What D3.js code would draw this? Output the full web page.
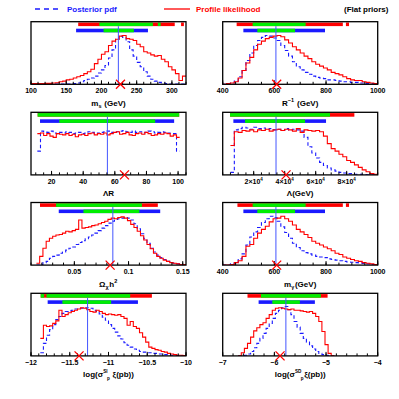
<!DOCTYPE html>
<html><head><meta charset="utf-8">
<script src="https://cdn.jsdelivr.net/npm/d3@7"></script>
<style>body{margin:0;background:#fff}svg{display:block}text{font-family:"Liberation Sans",Arial,Helvetica,sans-serif;font-weight:bold}</style>
</head><body>
<svg id="c" width="399" height="399"></svg>
<script>
// ---------------- DATA ----------------
// Panel 1: m_s
const msDomain=[100,320], msTicks=[100,150,200,250,300], msMinor=10, msBin=[100,5];
const msRed=[0.01,0.01,0.01,0.01,0.015,0.015,0.02,0.025,0.04,0.05,0.07,0.08,0.1,0.12,0.14,0.17,0.2,0.24,0.33,0.4,0.48,0.52,0.62,0.69,0.72,0.77,0.78,0.73,0.72,0.7,0.64,0.6,0.52,0.5,0.47,0.45,0.46,0.4,0.36,0.28,0.23,0.17,0.06,0.13];
const msBlue=[0.005,0.005,0.005,0.005,0.005,0.005,0.005,0.005,0.005,0.005,0.005,0.005,0.01,0.02,0.04,0.06,0.08,0.1,0.13,0.18,0.23,0.3,0.42,0.55,0.72,0.77,0.75,0.68,0.55,0.45,0.35,0.28,0.2,0.13,0.08,0.05,0.03,0.02,0.01,0.005,0.005,0.005,0.005,0.005];
const msProf95=[[167,304],[313,317]], msProf68=[[197,273],[280,284]], msPost95=[[164,266]], msPost68=[[203,246]], msMean=224, msBest=227;

// Panel 2: R^-1
const rDomain=[400,1000], rTicks=[400,600,800,1000], rMinor=50, rBin=[400,15];
const rRed=[0,0.01,0.02,0.04,0.1,0.22,0.34,0.43,0.55,0.64,0.69,0.73,0.75,0.77,0.78,0.76,0.71,0.66,0.6,0.55,0.5,0.45,0.41,0.36,0.32,0.29,0.26,0.23,0.19,0.17,0.15,0.12,0.09,0.07,0.06,0.06,0.04,0.03,0.02,0.01];
const rBlue=[0,0,0.02,0.05,0.12,0.22,0.38,0.5,0.62,0.7,0.75,0.78,0.77,0.74,0.7,0.62,0.54,0.45,0.36,0.28,0.23,0.19,0.16,0.13,0.11,0.1,0.09,0.07,0.07,0.06,0.05,0.04,0.04,0.03,0.03,0.02,0.02,0.01,0.01,0.005];
const rProf95=[[454,865],[877,889]], rProf68=[[516,721]], rPost95=[[480,796]], rPost68=[[534,680]], rMean=606, rBest=609;

// Panel 3: Lambda R
const lrDomain=[7,105], lrTicks=[20,40,60,80,100], lrMinor=5, lrBin=[11,2];
const lrRed=[0.66,0.67,0.63,0.66,0.62,0.6,0.66,0.65,0.64,0.66,0.63,0.65,0.61,0.64,0.65,0.63,0.66,0.67,0.64,0.66,0.65,0.67,0.64,0.66,0.68,0.69,0.65,0.66,0.68,0.64,0.63,0.66,0.67,0.65,0.68,0.66,0.63,0.64,0.66,0.65,0.67,0.66,0.62,0.64,0.6];
const lrBlue=[0.38,0.7,0.69,0.68,0.7,0.67,0.66,0.68,0.67,0.69,0.68,0.66,0.67,0.68,0.66,0.67,0.69,0.68,0.66,0.67,0.68,0.69,0.7,0.68,0.67,0.69,0.7,0.71,0.69,0.68,0.7,0.68,0.69,0.67,0.68,0.7,0.69,0.67,0.68,0.69,0.68,0.67,0.66,0.66,0.38];
const lrProf95=[[11.2,100.7]], lrProf68=[[11.2,100.7]], lrPost95=[[12.7,97.5]], lrPost68=[[24.9,85.5]], lrMean=55.3, lrBest=66.1;

// Panel 4: Lambda
const lDomain=[0,100000], lTicks=[20000,40000,60000,80000], lMinor=5000, lBin=[5000,2500];
const lRed=[0.47,0.69,0.68,0.71,0.7,0.72,0.69,0.72,0.71,0.73,0.7,0.72,0.73,0.71,0.73,0.72,0.7,0.74,0.68,0.72,0.71,0.7,0.71,0.69,0.62,0.5,0.42,0.38,0.33,0.29,0.23,0.2,0.16,0.12,0.08,0.05,0.02,0.01];
const lBlue=[0.04,0.72,0.74,0.76,0.75,0.73,0.76,0.74,0.75,0.73,0.74,0.72,0.73,0.71,0.74,0.72,0.73,0.72,0.7,0.6,0.45,0.35,0.27,0.2,0.15,0.11,0.08,0.06,0.04,0.03,0.02,0.02,0.01,0.01,0.005,0,0,0];
const lProf95=[[4731,84946]], lProf68=[[4731,69247]], lPost95=[[6882,66667]], lPost68=[[14409,53118]], lMean=34400, lBest=40860;

// Panel 5: Omega h^2
const oDomain=[0.01,0.153], oTicks=[0.05,0.1,0.15], oMinor=0.01, oBin=[0.015,0.003];
const oRed=[0.03,0.14,0.27,0.38,0.43,0.46,0.48,0.49,0.51,0.54,0.53,0.55,0.57,0.72,0.59,0.6,0.61,0.63,0.64,0.66,0.68,0.7,0.73,0.75,0.74,0.76,0.77,0.75,0.71,0.65,0.6,0.54,0.47,0.4,0.33,0.26,0.19,0.14,0.11,0.08,0.06,0.04,0.03,0.02,0.01,0.01];
const oBlue=[0,0.01,0.04,0.06,0.11,0.14,0.16,0.19,0.21,0.24,0.27,0.29,0.33,0.36,0.39,0.42,0.45,0.48,0.51,0.55,0.59,0.63,0.67,0.7,0.73,0.74,0.75,0.76,0.75,0.72,0.66,0.58,0.5,0.42,0.35,0.27,0.21,0.16,0.12,0.09,0.06,0.04,0.03,0.02,0.01,0.01];
const oProf95=[[0.0183,0.127]], oProf68=[[0.0331,0.1123]], oPost95=[[0.0356,0.1292]], oPost68=[[0.0584,0.110]], oMean=0.0855, oBest=0.083;

// Panel 6: m_gamma
const gDomain=[400,1000], gTicks=[400,600,800,1000], gMinor=50, gBin=[400,15];
const gRed=[0,0,0.01,0.04,0.07,0.14,0.3,0.33,0.43,0.51,0.57,0.62,0.69,0.74,0.75,0.78,0.74,0.7,0.64,0.57,0.53,0.49,0.44,0.38,0.35,0.32,0.29,0.26,0.23,0.19,0.17,0.13,0.11,0.09,0.07,0.06,0.04,0.03,0.02,0.01];
const gBlue=[0,0,0.02,0.04,0.1,0.18,0.32,0.45,0.53,0.6,0.68,0.74,0.78,0.76,0.7,0.61,0.52,0.43,0.35,0.28,0.23,0.2,0.18,0.16,0.14,0.13,0.12,0.1,0.09,0.08,0.07,0.06,0.05,0.045,0.04,0.035,0.025,0.02,0.01,0.01];
const gProf95=[[457,865],[877,889]], gProf68=[[516,721]], gPost95=[[480,796]], gPost68=[[534,680]], gMean=606, gBest=609;

// Panel 7: log sigma SI
const siDomain=[-12,-10], siTicks=[-12,-11.5,-11,-10.5,-10], siMinor=0.1, siBin=[-11.88,0.04];
const siRed=[0.28,0.49,0.47,0.48,0.52,0.56,0.73,0.63,0.66,0.69,0.71,0.73,0.75,0.77,0.76,0.74,0.71,0.7,0.73,0.71,0.68,0.66,0.67,0.66,0.65,0.66,0.63,0.6,0.49,0.55,0.47,0.44,0.37,0.3,0.22,0.14,0.12,0.1,0.09,0.07,0.06,0.04,0.03,0.02,0.01,0.01,0.005];
const siBlue=[0.05,0.2,0.33,0.42,0.5,0.58,0.63,0.68,0.71,0.72,0.73,0.75,0.76,0.76,0.77,0.77,0.76,0.73,0.71,0.67,0.62,0.57,0.5,0.44,0.38,0.32,0.27,0.21,0.17,0.14,0.11,0.09,0.07,0.06,0.05,0.05,0.04,0.04,0.03,0.03,0.02,0.02,0.01,0.01,0.005,0,0];
const siProf95=[[-11.875,-10.44]], siProf68=[[-11.875,-11.83],[-11.80,-10.72]], siPost95=[[-11.785,-10.62]], siPost68=[[-11.595,-10.966]], siMean=-11.27, siBest=-11.38;

// Panel 8: log sigma SD
const sdDomain=[-7,-4], sdTicks=[-7,-6,-5,-4], sdMinor=0.2, sdBin=[-6.7,0.06];
const sdRed=[0,0.05,0.12,0.2,0.3,0.4,0.45,0.5,0.53,0.6,0.66,0.73,0.76,0.77,0.76,0.75,0.74,0.75,0.73,0.73,0.72,0.71,0.7,0.71,0.68,0.63,0.55,0.39,0.18,0.04,0];
const sdBlue=[0,0,0.01,0.03,0.07,0.13,0.2,0.28,0.36,0.44,0.52,0.6,0.68,0.73,0.77,0.79,0.74,0.66,0.55,0.46,0.36,0.28,0.22,0.16,0.11,0.07,0.04,0.02,0.01,0,0];
const sdProf95=[[-6.52,-4.97]], sdProf68=[[-6.26,-5.1]], sdPost95=[[-6.305,-5.216]], sdPost68=[[-6.04,-5.506]], sdMean=-5.777, sdBest=-5.89;

const legendLabels=["Posterior pdf","Profile likelihood","(Flat priors)"];

// ---------------- DRAWING ----------------
const svg=d3.select("#c");
const colX=[31,222.7], rowY=[21.7,112.3,202.5,293.3], W=155, H=62.6;
const RED="#ff0000", BLUE="#1a1aff", GREEN="#00ee00";

const fmtNum=v=>String(v).replace("-","\u2212");
const panels=[
 {dom:msDomain,ticks:msTicks,minor:msMinor,bin:msBin,red:msRed,blue:msBlue,p95:msProf95,p68:msProf68,q95:msPost95,q68:msPost68,mean:msMean,best:msBest,fmt:fmtNum,
  title:[["m",""],["s","sub"],[" (GeV)",""]]},
 {dom:rDomain,ticks:rTicks,minor:rMinor,bin:rBin,red:rRed,blue:rBlue,p95:rProf95,p68:rProf68,q95:rPost95,q68:rPost68,mean:rMean,best:rBest,fmt:fmtNum,
  title:[["R",""],["\u22121","sup"],[" (GeV)",""]]},
 {dom:lrDomain,ticks:lrTicks,minor:lrMinor,bin:lrBin,red:lrRed,blue:lrBlue,p95:lrProf95,p68:lrProf68,q95:lrPost95,q68:lrPost68,mean:lrMean,best:lrBest,fmt:fmtNum,
  title:[["\u039bR",""]]},
 {dom:lDomain,ticks:lTicks,minor:lMinor,bin:lBin,red:lRed,blue:lBlue,p95:lProf95,p68:lProf68,q95:lPost95,q68:lPost68,mean:lMean,best:lBest,fmt:"exp",
  title:[["\u039b(GeV)",""]]},
 {dom:oDomain,ticks:oTicks,minor:oMinor,bin:oBin,red:oRed,blue:oBlue,p95:oProf95,p68:oProf68,q95:oPost95,q68:oPost68,mean:oMean,best:oBest,fmt:fmtNum,
  title:[["\u03a9",""],["\u03c7","sub"],["h",""],["2","sup"]]},
 {dom:gDomain,ticks:gTicks,minor:gMinor,bin:gBin,red:gRed,blue:gBlue,p95:gProf95,p68:gProf68,q95:gPost95,q68:gPost68,mean:gMean,best:gBest,fmt:fmtNum,
  title:[["m",""],["\u03b3","sub"],["(GeV)",""]]},
 {dom:siDomain,ticks:siTicks,minor:siMinor,bin:siBin,red:siRed,blue:siBlue,p95:siProf95,p68:siProf68,q95:siPost95,q68:siPost68,mean:siMean,best:siBest,fmt:fmtNum,
  title:[["log(\u03c3",""],["SI","supsub","p"],[" \u03be(pb))",""]]},
 {dom:sdDomain,ticks:sdTicks,minor:sdMinor,bin:sdBin,red:sdRed,blue:sdBlue,p95:sdProf95,p68:sdProf68,q95:sdPost95,q68:sdPost68,mean:sdMean,best:sdBest,fmt:fmtNum,
  title:[["log(\u03c3",""],["SD","supsub","p"],["\u03be(pb))",""]]}
];

const defs=svg.append("defs");
panels.forEach((p,i)=>{
  const x0=colX[i%2], y0=rowY[Math.floor(i/2)];
  const x=d3.scaleLinear().domain(p.dom).range([x0,x0+W]);
  const y=d3.scaleLinear().domain([0,1]).range([y0+H,y0]);
  const g=svg.append("g");
  defs.append("clipPath").attr("id","cp"+i).append("rect").attr("x",x0).attr("y",y0).attr("width",W).attr("height",H);
  const line=d3.line().x(d=>x(d[0])).y(d=>y(d[1]));
  const pts=arr=>arr.flatMap((v,k)=>[[p.bin[0]+k*p.bin[1],v],[p.bin[0]+(k+1)*p.bin[1],v]]);
  const hg=g.append("g").attr("clip-path","url(#cp"+i+")");
  hg.append("path").attr("d",line(pts(p.blue))).attr("fill","none").attr("stroke",BLUE).attr("stroke-width",1.1).attr("stroke-dasharray","3.5,2.5");
  hg.append("path").attr("d",line(pts(p.red))).attr("fill","none").attr("stroke",RED).attr("stroke-width",1.1);
  // bars
  const bar=(ints,col,top)=>ints.forEach(iv=>g.append("rect").attr("x",x(iv[0])).attr("width",x(iv[1])-x(iv[0])).attr("y",y0+top).attr("height",3.6).attr("fill",col));
  bar(p.p95,RED,0.8); bar(p.p68,GREEN,0.8);
  bar(p.q95,BLUE,7); bar(p.q68,GREEN,7);
  // mean line
  g.append("line").attr("x1",x(p.mean)).attr("x2",x(p.mean)).attr("y1",y0+4.5).attr("y2",y0+H).attr("stroke","#4455ff").attr("stroke-width",1);
  // frame
  g.append("rect").attr("x",x0).attr("y",y0).attr("width",W).attr("height",H).attr("fill","none").attr("stroke","#000").attr("stroke-width",1.3);
  // ticks
  const [a,b]=p.dom;
  const minors=d3.range(Math.ceil(a/p.minor-1e-9),Math.floor(b/p.minor+1e-9)+1).map(k=>k*p.minor);
  minors.forEach(v=>g.append("line").attr("x1",x(v)).attr("x2",x(v)).attr("y1",y0+H).attr("y2",y0+H-2.5).attr("stroke","#000").attr("stroke-width",1));
  p.ticks.forEach(v=>{
    g.append("line").attr("x1",x(v)).attr("x2",x(v)).attr("y1",y0+H).attr("y2",y0+H-4).attr("stroke","#000").attr("stroke-width",1);
    const t=g.append("text").attr("x",x(v)).attr("y",y0+H+9).attr("text-anchor","middle").attr("font-size",7);
    if(p.fmt==="exp"){ t.append("tspan").text((v/10000)+"\u00d710"); t.append("tspan").attr("font-size",4.5).attr("dy",-3).text("4"); }
    else t.text(p.fmt(v));
  });
  // best fit X
  const bx=x(p.best), by=y0+H;
  g.append("path").attr("d",`M${bx-4.5},${by-4.5}L${bx+4.5},${by+4.5}M${bx-4.5},${by+4.5}L${bx+4.5},${by-4.5}`).attr("stroke",RED).attr("stroke-width",1.3);
  // title
  const tt=g.append("text").attr("x",x0+W/2).attr("y",y0+H+21.5).attr("text-anchor","middle").attr("font-size",8);
  p.title.forEach(seg=>{
    if(seg[1]==="") tt.append("tspan").text(seg[0]);
    else if(seg[1]==="sub"){ tt.append("tspan").attr("font-size",5.5).attr("dy",2).text(seg[0]); tt.append("tspan").attr("dy",-2).text("\u200a"); }
    else if(seg[1]==="sup"){ tt.append("tspan").attr("font-size",5.5).attr("dy",-3.5).text(seg[0]); tt.append("tspan").attr("dy",3.5).text("\u200a"); }
    else { // sup then sub placed just after it (tight, like stacked indices)
      tt.append("tspan").attr("font-size",4.6).attr("dy",-4).text(seg[0]);
      tt.append("tspan").attr("font-size",4.6).attr("dy",6.5).attr("dx",-0.6).text(seg[2]);
      tt.append("tspan").attr("dy",-2.5).text("\u200a");
    }
  });
});

// legend
svg.append("line").attr("x1",35).attr("x2",58).attr("y1",9).attr("y2",9).attr("stroke",BLUE).attr("stroke-width",1.3).attr("stroke-dasharray","5,4");
svg.append("text").attr("x",67).attr("y",12).attr("font-size",8).attr("fill",BLUE).text(legendLabels[0]);
svg.append("line").attr("x1",164).attr("x2",190).attr("y1",9).attr("y2",9).attr("stroke",RED).attr("stroke-width",1.3);
svg.append("text").attr("x",196).attr("y",12).attr("font-size",8).attr("fill",RED).text(legendLabels[1]);
svg.append("text").attr("x",344).attr("y",12).attr("font-size",8).attr("fill","#000").text(legendLabels[2]);
</script>
</body></html>
